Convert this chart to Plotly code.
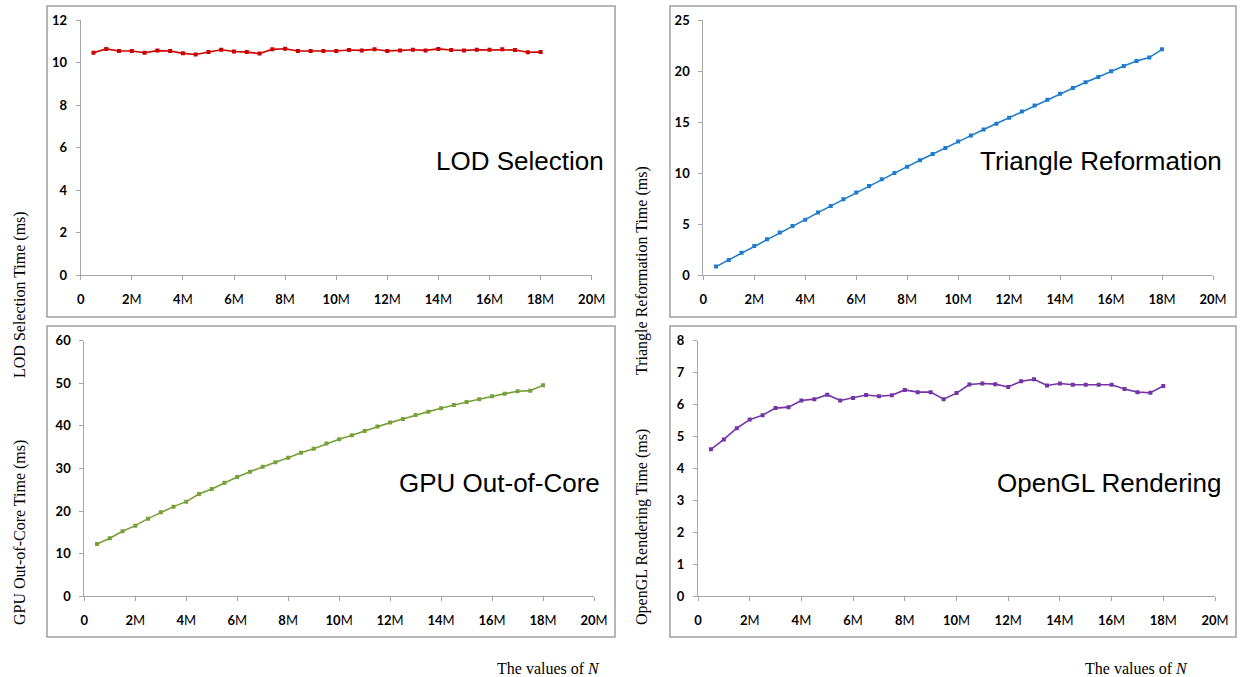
import plotly.graph_objects as go

W, H = 1244, 677

# ---------------- data ----------------
n_values = [0.5 * i for i in range(1, 37)]  # 0.5M .. 18M

lod_selection = [10.46, 10.64, 10.54, 10.54, 10.46, 10.56, 10.54, 10.43, 10.38, 10.50,
                 10.60, 10.52, 10.49, 10.42, 10.62, 10.65, 10.54, 10.54, 10.54, 10.54,
                 10.59, 10.57, 10.62, 10.54, 10.57, 10.60, 10.57, 10.64, 10.59, 10.57,
                 10.60, 10.60, 10.62, 10.59, 10.48, 10.49]

triangle_reformation = [0.85, 1.50, 2.22, 2.87, 3.53, 4.18, 4.83, 5.45, 6.14, 6.79,
                        7.44, 8.10, 8.75, 9.40, 10.02, 10.64, 11.26, 11.88, 12.47, 13.09,
                        13.68, 14.27, 14.85, 15.44, 16.03, 16.62, 17.20, 17.79, 18.35, 18.90,
                        19.42, 19.98, 20.50, 20.99, 21.32, 22.13]

gpu_out_of_core = [12.28, 13.62, 15.26, 16.59, 18.23, 19.72, 21.05, 22.22, 24.02, 25.20,
                   26.68, 28.01, 29.26, 30.44, 31.46, 32.55, 33.72, 34.66, 35.84, 36.85,
                   37.79, 38.81, 39.83, 40.77, 41.63, 42.57, 43.35, 44.13, 44.91, 45.62,
                   46.24, 46.95, 47.57, 48.12, 48.28, 49.53]

opengl_rendering = [4.60, 4.91, 5.26, 5.53, 5.67, 5.89, 5.92, 6.13, 6.17, 6.31,
                    6.13, 6.21, 6.30, 6.26, 6.29, 6.46, 6.39, 6.39, 6.17, 6.36,
                    6.63, 6.66, 6.64, 6.55, 6.73, 6.79, 6.60, 6.66, 6.62, 6.62,
                    6.62, 6.62, 6.49, 6.39, 6.37, 6.58]

x_tickvals = [0, 2, 4, 6, 8, 10, 12, 14, 16, 18, 20]
x_ticktext = ["<b>0</b>"] + ["<b>%d</b>M" % v for v in x_tickvals[1:]]

panels = [
    dict(name="LOD Selection", y=lod_selection, color="#CC0000",
         yticks=[0, 2, 4, 6, 8, 10, 12], ytitle="LOD Selection Time (ms)"),
    dict(name="Triangle Reformation", y=triangle_reformation, color="#1F7BCB",
         yticks=[0, 5, 10, 15, 20, 25], ytitle="Triangle Reformation Time (ms)"),
    dict(name="GPU Out-of-Core", y=gpu_out_of_core, color="#77A03A",
         yticks=[0, 10, 20, 30, 40, 50, 60], ytitle="GPU Out-of-Core Time (ms)"),
    dict(name="OpenGL Rendering", y=opengl_rendering, color="#7434A8",
         yticks=[0, 1, 2, 3, 4, 5, 6, 7, 8], ytitle="OpenGL Rendering Time (ms)"),
]

# ---------------- layout geometry (pixels) ----------------
plot_boxes = [  # x0, x1, ytop, ybottom of the axes
    (80.7, 591.7, 20.0, 275.0),
    (703.3, 1213.0, 20.0, 275.3),
    (84.3, 594.0, 340.7, 596.3),
    (698.0, 1215.0, 340.7, 596.3),
]
frames = [(47, 6, 615, 317), (670, 6, 1236, 317), (47, 326, 615, 637), (670, 326, 1236, 637)]
title_pos = [(606, 161), (1224, 161), (602, 483), (1224, 483)]
ytitle_pos = [(20, 295), (642, 270), (20, 533), (642, 527)]
xtitle_pos = [(602, 668), (1190, 668)]


def px(x):
    return x / W


def py(y):
    return 1 - y / H


fig = go.Figure()
axis_color = "#A6A6A6"
tick_font = dict(family="Lato", size=13, color="#000000")

for i, p in enumerate(panels):
    k = "" if i == 0 else str(i + 1)
    fig.add_trace(go.Scatter(
        x=n_values, y=p["y"], mode="lines+markers",
        line=dict(color=p["color"], width=1.6),
        marker=dict(symbol="square", size=4, color=p["color"]),
        xaxis="x" + k, yaxis="y" + k, showlegend=False,
    ))
    x0, x1, yt, yb = plot_boxes[i]
    fig.layout["xaxis" + k] = dict(
        domain=[px(x0), px(x1)], range=[0, 20], anchor="y" + k,
        tickvals=x_tickvals, ticktext=x_ticktext, tickfont=tick_font,
        showgrid=False, zeroline=False, showline=True, linecolor=axis_color, linewidth=1,
        ticks="outside", ticklen=4, tickcolor=axis_color, ticklabelstandoff=8,
        fixedrange=True, automargin=False,
    )
    fig.layout["yaxis" + k] = dict(
        domain=[py(yb), py(yt)], range=[0, p["yticks"][-1]], anchor="x" + k,
        tickvals=p["yticks"], ticktext=["<b>%d</b>" % v for v in p["yticks"]],
        tickfont=tick_font,
        showgrid=False, zeroline=False, showline=True, linecolor=axis_color, linewidth=1,
        ticks="outside", ticklen=4, tickcolor=axis_color, ticklabelstandoff=6,
        fixedrange=True, automargin=False,
    )

shapes = []
for (a, b, c, d) in frames:
    shapes.append(dict(type="rect", xref="paper", yref="paper",
                       x0=px(a), x1=px(c), y0=py(d), y1=py(b),
                       line=dict(color="#A0A0A0", width=1.5)))

annotations = []
for i, p in enumerate(panels):
    tx, ty = title_pos[i]
    annotations.append(dict(text=p["name"], xref="paper", yref="paper",
                            x=px(tx), y=py(ty), xanchor="right", yanchor="middle",
                            showarrow=False,
                            font=dict(family="Liberation Sans", size=26, color="#000000")))
    yx, yy = ytitle_pos[i]
    annotations.append(dict(text=p["ytitle"], xref="paper", yref="paper",
                            x=px(yx), y=py(yy), xanchor="center", yanchor="middle",
                            textangle=-90, showarrow=False,
                            font=dict(family="Liberation Serif", size=16, color="#000000")))
for (tx, ty) in xtitle_pos:
    annotations.append(dict(text="The values of <i>N</i>", xref="paper", yref="paper",
                            x=px(tx), y=py(ty), xanchor="right", yanchor="middle",
                            showarrow=False,
                            font=dict(family="Liberation Serif", size=16, color="#000000")))

fig.update_layout(
    width=W, height=H, margin=dict(l=0, r=0, t=0, b=0, pad=0, autoexpand=False),
    paper_bgcolor="white", plot_bgcolor="white",
    shapes=shapes, annotations=annotations,
)

fig.write_html(
    "out.html",
    config={"displayModeBar": False, "responsive": False},
    post_script="document.body.style.margin='0';document.body.style.padding='0';"
                "document.body.style.overflow='hidden';",
)
